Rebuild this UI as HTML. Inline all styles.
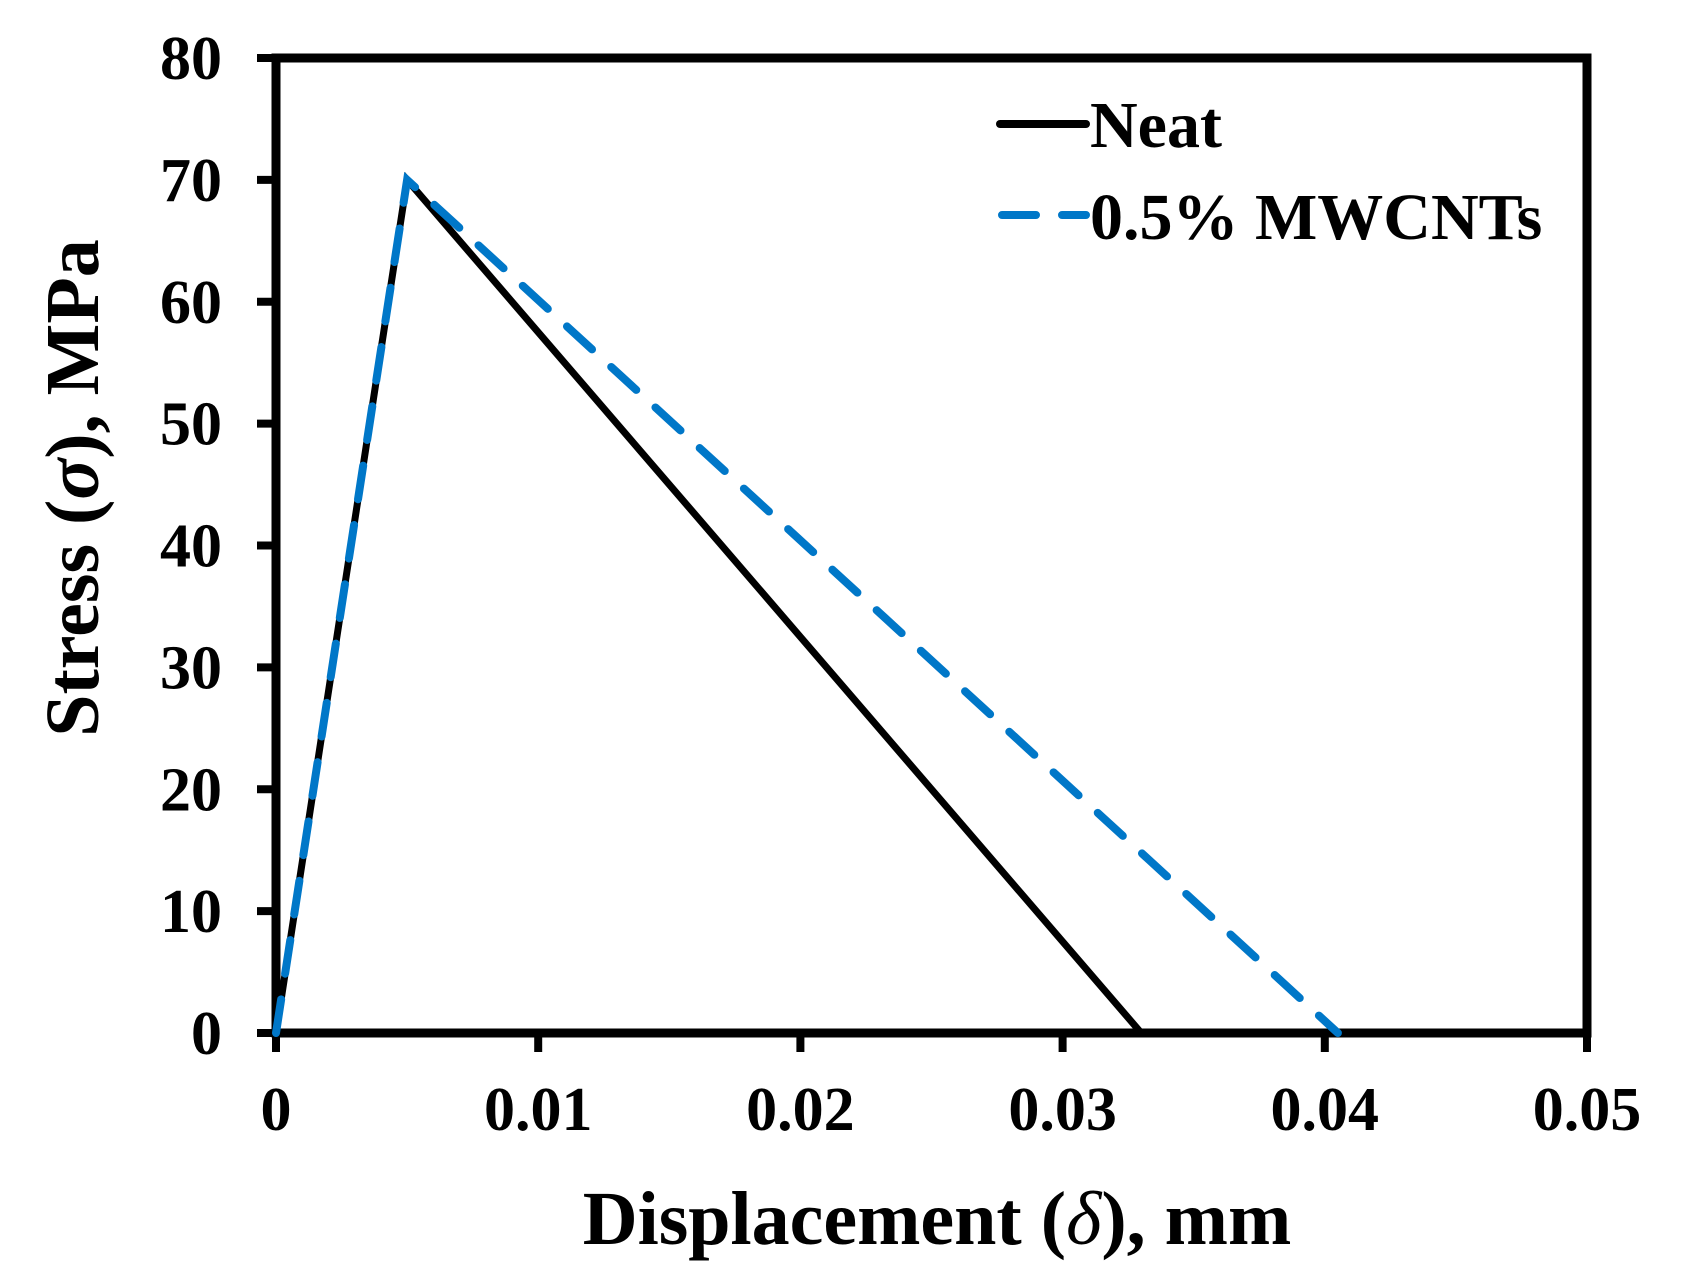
<!DOCTYPE html>
<html><head><meta charset="utf-8"><style>
html,body{margin:0;padding:0;background:#fff;}
svg{display:block;font-family:"Liberation Serif",serif;font-weight:bold;}
</style></head><body>
<svg id="chart" width="1691" height="1280" viewBox="0 0 1691 1280">
<rect x="276" y="58" width="1311" height="975" fill="none" stroke="#000" stroke-width="9"/>
<g id="ticks"></g>
<g id="series"></g>
<g>
<line x1="1000" y1="124" x2="1086" y2="124" stroke="#000" stroke-width="8" stroke-linecap="round"/>
<text x="1090" y="147" font-size="66">Neat</text>
<line x1="1002" y1="215" x2="1086" y2="215" stroke="#0077c8" stroke-width="8" stroke-dasharray="34,26" stroke-linecap="round"/>
<text x="1090" y="239" font-size="66">0.5% MWCNTs</text>
</g>
<text x="937" y="1244" font-size="76" text-anchor="middle">Displacement (<tspan font-style="italic" font-weight="normal">δ</tspan>), mm</text>
<text transform="translate(98,488) rotate(-90)" font-size="76" text-anchor="middle">Stress (<tspan font-style="italic">σ</tspan>), MPa</text>
</svg>
<script>
const xTicks=[0,0.01,0.02,0.03,0.04,0.05];
const xTickLabels=["0","0.01","0.02","0.03","0.04","0.05"];
const yTicks=[0,10,20,30,40,50,60,70,80];
const neatX=[0,0.005,0.033];
const neatY=[0,70,0];
const mwX=[0,0.005,0.0405];
const mwY=[0,70,0];
const X=v=>276+v/0.05*1311;
const Y=v=>1033-v/80*975;
const NS="http://www.w3.org/2000/svg";
const tg=document.getElementById('ticks');
function mk(tag,attrs,parent){const e=document.createElementNS(NS,tag);for(const k in attrs)e.setAttribute(k,attrs[k]);parent.appendChild(e);return e;}
xTicks.forEach((t,i)=>{
 const l=mk('line',{x1:X(t),x2:X(t),y1:1033,y2:1052,stroke:'#000','stroke-width':8},tg);
 
 
 const tx=mk('text',{x:X(t),y:1130,'font-size':62,'text-anchor':'middle'},tg);
 tx.textContent=xTickLabels[i];
 
 
});
yTicks.forEach(t=>{
 const l=mk('line',{x1:257,x2:276,y1:Y(t),y2:Y(t),stroke:'#000','stroke-width':8},tg);
 
 
 const tx=mk('text',{x:222,y:Y(t)+21,'font-size':62,'text-anchor':'end'},tg);
 tx.textContent=String(t);
 
 
});
const sg=document.getElementById('series');
const pts=(xs,ys)=>xs.map((x,i)=>X(x)+','+Y(ys[i])).join(' ');
const p1=mk('polyline',{points:pts(neatX,neatY),fill:'none',stroke:'#000','stroke-width':7,'stroke-linejoin':'miter'},sg);


const p2=mk('polyline',{points:pts(mwX,mwY),fill:'none',stroke:'#0077c8','stroke-width':8,'stroke-dasharray':'34,26','stroke-linecap':'round'},sg);


</script>
</body></html>
